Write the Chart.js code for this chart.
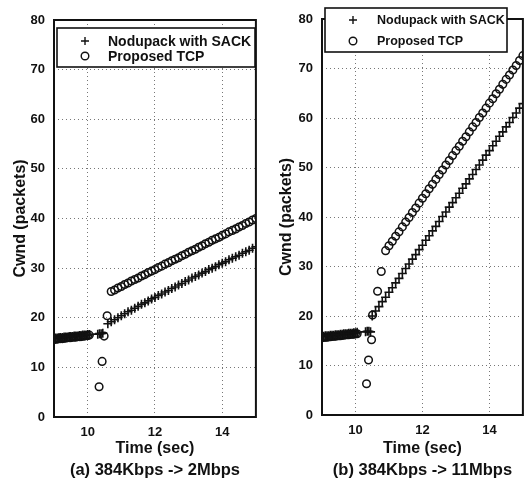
<!DOCTYPE html>
<html><head><meta charset="utf-8">
<script src="https://cdn.jsdelivr.net/npm/chart.js@4.4.1/dist/chart.umd.min.js"></script>
<style>
html,body{margin:0;padding:0;background:#fff;width:529px;height:478px;overflow:hidden}
.wrap{position:absolute;top:0;height:478px}
#w1{left:0;width:262px}
#w2{left:262px;width:267px}
canvas{display:block}
</style></head><body>
<div class="wrap" id="w1"><canvas id="c1" width="262" height="478"></canvas></div>
<div class="wrap" id="w2"><canvas id="c2" width="267" height="478"></canvas></div>
<script>
// ---------- data ----------
const seriesNames = ["Nodupack with SACK", "Proposed TCP"];
const xTicks = [10, 12, 14];
const yTicks = [0, 10, 20, 30, 40, 50, 60, 70, 80];
const xTitle = "Time (sec)";
const yTitle = "Cwnd (packets)";
const captionA = "(a) 384Kbps -> 2Mbps";
const captionB = "(b) 384Kbps -> 11Mbps";

// (a) 384Kbps -> 2Mbps
const aPlusX = [9.0,9.05,9.1,9.15,9.2,9.25,9.3,9.35,9.4,9.45,9.5,9.55,9.6,9.65,9.7,9.75,9.8,9.85,9.9,9.95,10.0,10.05,
  10.3,10.35,10.4,10.45,
  10.6,10.7,10.8,10.9,11.0,11.1,11.2,11.3,11.4,11.5,11.6,11.7,11.8,11.9,12.0,12.1,12.2,12.3,12.4,12.5,12.6,12.7,12.8,12.9,
  13.0,13.1,13.2,13.3,13.4,13.5,13.6,13.7,13.8,13.9,14.0,14.1,14.2,14.3,14.4,14.5,14.6,14.7,14.8,14.9,15.0];
const aPlusY = [15.8,15.9,15.9,16.0,16.0,16.0,16.1,16.1,16.1,16.2,16.2,16.2,16.3,16.3,16.3,16.4,16.4,16.5,16.5,16.5,16.6,16.6,
  16.7,16.8,16.8,16.9,
  18.8,19.2,19.6,20.0,20.4,20.8,21.2,21.5,21.9,22.3,22.7,23.0,23.4,23.8,24.1,24.5,24.8,25.2,25.5,25.9,26.2,26.6,26.9,27.3,
  27.6,28.0,28.3,28.6,29.0,29.3,29.7,30.0,30.3,30.7,31.0,31.3,31.7,32.0,32.3,32.6,33.0,33.3,33.6,34.0,34.3];
const aCircX = [9.0,9.05,9.1,9.15,9.2,9.25,9.3,9.35,9.4,9.45,9.5,9.55,9.6,9.65,9.7,9.75,9.8,9.85,9.9,9.95,10.0,10.05,
  10.34,10.43,10.49,10.58,
  10.7,10.8,10.9,11.0,11.1,11.2,11.3,11.4,11.5,11.6,11.7,11.8,11.9,12.0,12.1,12.2,12.3,12.4,12.5,12.6,12.7,12.8,12.9,
  13.0,13.1,13.2,13.3,13.4,13.5,13.6,13.7,13.8,13.9,14.0,14.1,14.2,14.3,14.4,14.5,14.6,14.7,14.8,14.9,15.0];
const aCircY = [15.6,15.7,15.7,15.8,15.8,15.8,15.9,15.9,16.0,16.0,16.0,16.1,16.1,16.1,16.2,16.2,16.2,16.3,16.3,16.4,16.4,16.5,
  6.1,11.2,16.3,20.4,
  25.3,25.6,26.0,26.3,26.7,27.0,27.4,27.7,28.0,28.4,28.7,29.1,29.4,29.7,30.1,30.4,30.8,31.1,31.5,31.8,32.1,32.5,32.8,
  33.2,33.5,33.8,34.2,34.5,34.9,35.2,35.6,35.9,36.2,36.6,36.9,37.3,37.6,37.9,38.3,38.6,39.0,39.3,39.7,40.0];

// (b) 384Kbps -> 11Mbps
const bPlusX = [9.0,9.05,9.1,9.15,9.2,9.25,9.3,9.35,9.4,9.45,9.5,9.55,9.6,9.65,9.7,9.75,9.8,9.85,9.9,9.95,10.0,10.05,
  10.3,10.35,10.4,10.45,
  10.5,10.6,10.7,10.8,10.9,11.0,11.1,11.2,11.3,11.4,11.5,11.6,11.7,11.8,11.9,12.0,12.1,12.2,12.3,12.4,12.5,12.6,12.7,12.8,12.9,
  13.0,13.1,13.2,13.3,13.4,13.5,13.6,13.7,13.8,13.9,14.0,14.1,14.2,14.3,14.4,14.5,14.6,14.7,14.8,14.9,15.0];
const bPlusY = [15.9,15.9,16.0,16.0,16.0,16.1,16.1,16.1,16.2,16.2,16.2,16.3,16.3,16.4,16.4,16.4,16.5,16.5,16.5,16.6,16.6,16.7,
  16.8,16.9,16.9,16.8,
  20.0,21.0,21.9,22.9,23.8,24.8,25.7,26.7,27.6,28.6,29.6,30.5,31.5,32.4,33.4,34.3,35.3,36.2,37.2,38.1,39.1,40.1,41.0,42.0,42.9,
  43.9,44.8,45.8,46.7,47.7,48.6,49.6,50.5,51.5,52.5,53.4,54.4,55.3,56.3,57.2,58.2,59.1,60.1,61.0,62.0,62.9];
const bCircX = [9.0,9.05,9.1,9.15,9.2,9.25,9.3,9.35,9.4,9.45,9.5,9.55,9.6,9.65,9.7,9.75,9.8,9.85,9.9,9.95,10.0,10.05,
  10.33,10.39,10.48,10.51,10.66,10.77,
  10.9,11.0,11.1,11.2,11.3,11.4,11.5,11.6,11.7,11.8,11.9,12.0,12.1,12.2,12.3,12.4,12.5,12.6,12.7,12.8,12.9,
  13.0,13.1,13.2,13.3,13.4,13.5,13.6,13.7,13.8,13.9,14.0,14.1,14.2,14.3,14.4,14.5,14.6,14.7,14.8,14.9,15.0];
const bCircY = [15.6,15.7,15.7,15.7,15.8,15.8,15.9,15.9,15.9,16.0,16.0,16.0,16.1,16.1,16.2,16.2,16.2,16.3,16.3,16.3,16.4,16.4,
  6.3,11.1,15.2,20.2,25.0,29.0,
  33.2,34.2,35.1,36.1,37.0,38.0,39.0,39.9,40.9,41.8,42.8,43.8,44.7,45.7,46.6,47.6,48.6,49.5,50.5,51.4,52.4,
  53.4,54.3,55.3,56.2,57.2,58.2,59.1,60.1,61.0,62.0,63.0,63.9,64.9,65.8,66.8,67.8,68.7,69.7,70.6,71.6,72.6];

// ---------- helpers ----------
const FONT = "'Liberation Sans', Arial, Helvetica, sans-serif";
const INK = '#111';
function pts(xs, ys) { return xs.map((x, i) => ({ x: x, y: ys[i] })); }

const framePlugin = {
  id: 'frame',
  afterDraw(chart) {
    const { ctx, chartArea: a } = chart;
    const o = chart.options.plugins.boxLegend;
    ctx.save();
    ctx.strokeStyle = INK;
    ctx.lineWidth = 2;
    ctx.strokeRect(a.left, a.top, a.right - a.left, a.bottom - a.top);
    // caption under the axis title, centred on the plot area
    ctx.fillStyle = INK;
    ctx.font = o.capFont + ' ' + FONT;
    ctx.textAlign = 'center';
    ctx.textBaseline = 'middle';
    ctx.fillText(o.caption, (a.left + a.right) / 2, o.capY);
    ctx.restore();
    // legend box
    ctx.save();
    ctx.fillStyle = '#fff';
    ctx.fillRect(o.x, o.y, o.w, o.h);
    ctx.strokeStyle = INK;
    ctx.lineWidth = 1.6;
    ctx.strokeRect(o.x, o.y, o.w, o.h);
    ctx.font = o.font + ' ' + FONT;
    ctx.fillStyle = INK;
    ctx.textBaseline = 'middle';
    chart.data.datasets.forEach((ds, i) => {
      const cy = o.rows[i];
      ctx.strokeStyle = INK;
      ctx.lineWidth = 1.4;
      ctx.beginPath();
      if (ds.pointStyle === 'cross') {
        ctx.moveTo(o.mx - 4, cy); ctx.lineTo(o.mx + 4, cy);
        ctx.moveTo(o.mx, cy - 4); ctx.lineTo(o.mx, cy + 4);
      } else {
        ctx.arc(o.mx, cy, 3.8, 0, Math.PI * 2);
      }
      ctx.stroke();
      ctx.fillText(ds.label, o.tx, cy + 1);
    });
    ctx.restore();
  }
};

function makeChart(id, plusX, plusY, circX, circY, pad, yW, xH, legend) {
  return new Chart(document.getElementById(id), {
    type: 'scatter',
    data: {
      datasets: [
        { label: seriesNames[0], data: pts(plusX, plusY), pointStyle: 'cross', pointRadius: 4.5,
          borderColor: INK, backgroundColor: INK, pointBorderWidth: 1.6 },
        { label: seriesNames[1], data: pts(circX, circY), pointStyle: 'circle', pointRadius: 3.8,
          borderColor: INK, backgroundColor: 'rgba(0,0,0,0)', pointBorderWidth: 1.5 }
      ]
    },
    options: {
      responsive: false,
      animation: false,
      events: [],
      layout: { padding: pad },
      scales: {
        x: {
          type: 'linear', min: 9, max: 15,
          afterBuildTicks: s => { s.ticks = xTicks.map(v => ({ value: v })); },
          afterFit: s => { s.height = xH; },
          grid: { color: '#777', lineWidth: 1, drawTicks: false },
          border: { display: false, dash: [1, 3] },
          ticks: { padding: 8, color: INK, font: { family: FONT, size: 13, weight: 'bold' } },
          title: { display: true, text: xTitle, color: INK, padding: { top: 0, bottom: 20 },
                   font: { family: FONT, size: 16, weight: 'bold' } }
        },
        y: {
          type: 'linear', min: 0, max: 80,
          afterBuildTicks: s => { s.ticks = yTicks.map(v => ({ value: v })); },
          afterFit: s => { s.width = yW; },
          grid: { color: '#777', lineWidth: 1, drawTicks: false },
          border: { display: false, dash: [1, 3] },
          ticks: { padding: 9, color: INK, font: { family: FONT, size: 13, weight: 'bold' } },
          title: { display: true, text: yTitle, color: INK, padding: { top: 0, bottom: 0 },
                   font: { family: FONT, size: 16, weight: 'bold' } }
        }
      },
      plugins: {
        legend: { display: false },
        tooltip: { enabled: false },
        boxLegend: legend
      }
    },
    plugins: [framePlugin]
  });
}

makeChart('c1', aPlusX, aPlusY, aCircX, aCircY,
  { left: 11, top: 20, right: 5, bottom: 0 }, 43, 61,
  { x: 57, y: 28, w: 198, h: 39, mx: 85, tx: 108, rows: [41, 56], font: 'bold 14px',
    caption: captionA, capFont: 'bold 16.5px', capY: 470 });
makeChart('c2', bPlusX, bPlusY, bCircX, bCircY,
  { left: 15, top: 19, right: 2, bottom: 0 }, 45, 63,
  { x: 63, y: 8, w: 182, h: 44, mx: 91, tx: 115, rows: [20, 41], font: 'bold 12.5px',
    caption: captionB, capFont: 'bold 16.5px', capY: 470 });
</script>
</body></html>
